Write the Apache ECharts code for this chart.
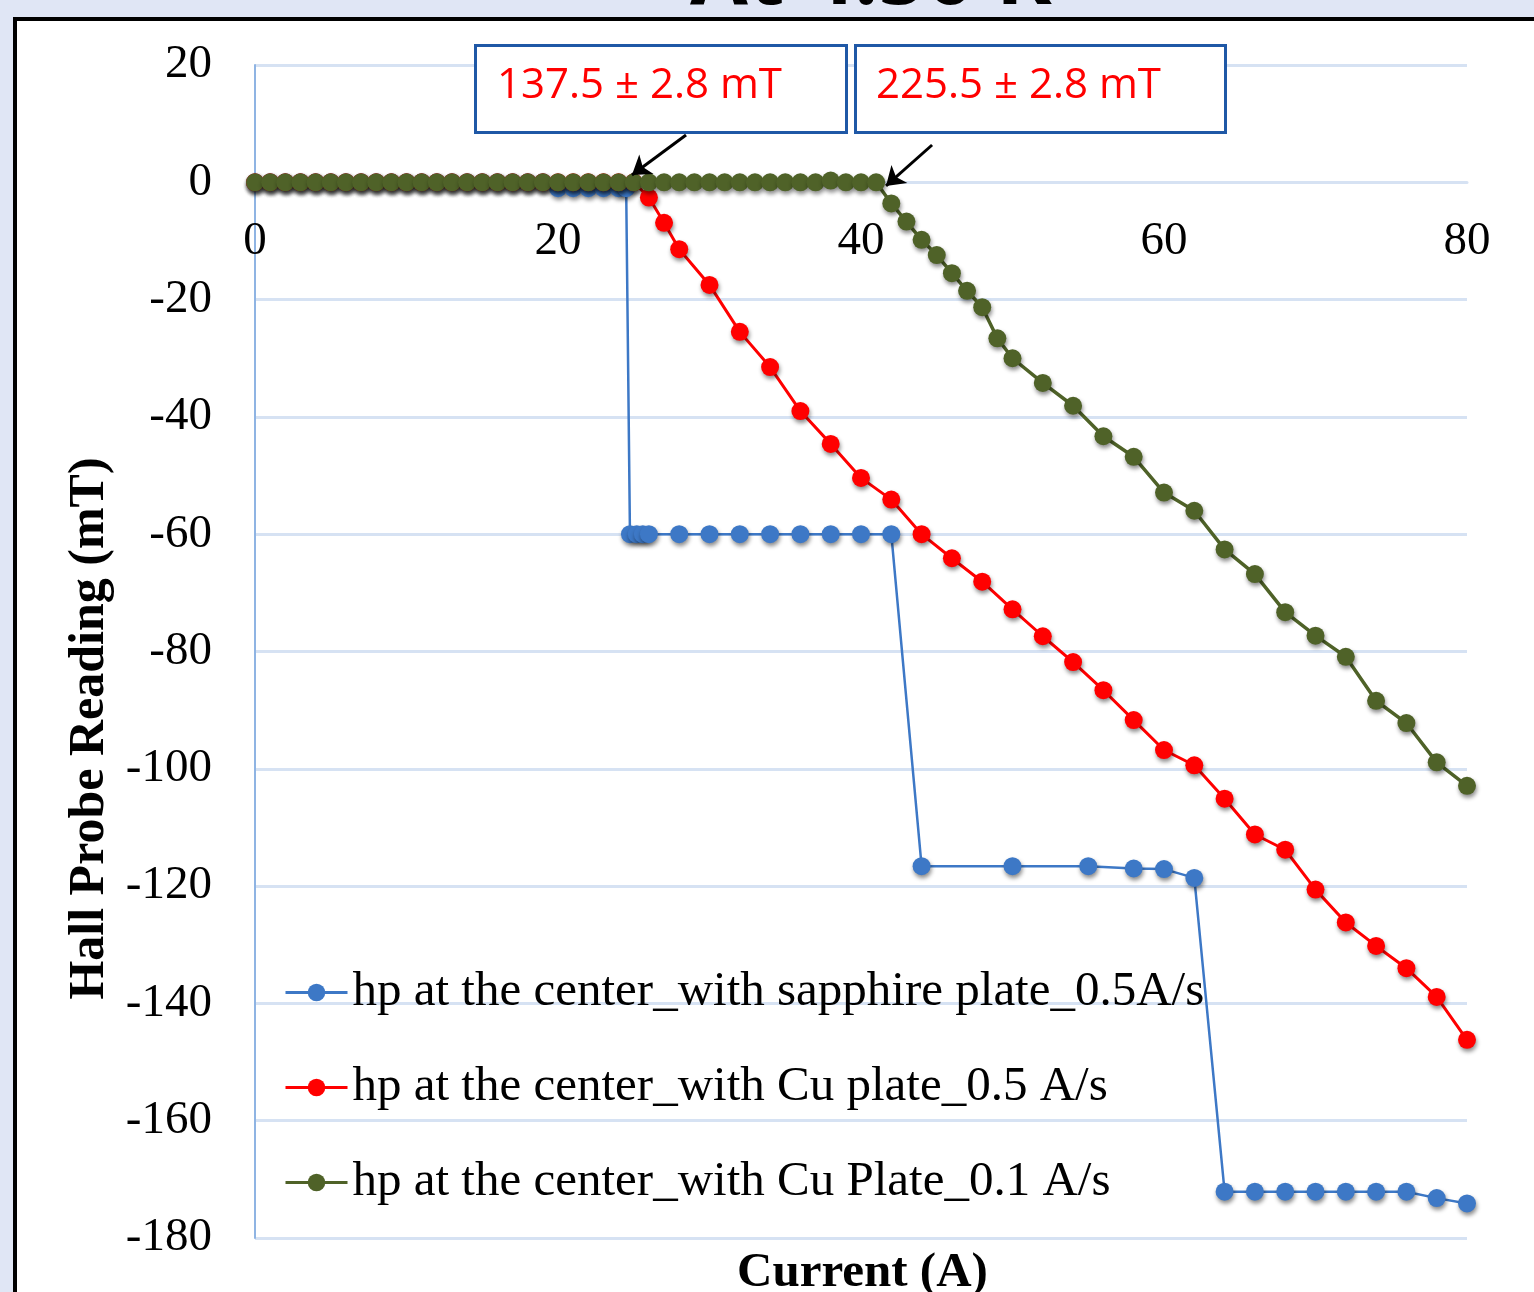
<!DOCTYPE html>
<html>
<head>
<meta charset="utf-8">
<script src="https://cdn.jsdelivr.net/npm/echarts@6/dist/echarts.min.js"></script>
<style>
html,body{margin:0;padding:0;background:#e0e6f5;}
#frame{position:absolute;left:13px;top:17px;width:1540px;height:1300px;border:4px solid #000;background:#fff;box-sizing:border-box;}
#c{position:absolute;left:0;top:0;width:1534px;height:1292px;}
</style>
</head>
<body>
<div id="frame"></div>
<div id="c"></div>
<script>
// ---- data ----
const seriesNames = [
  'hp at the center_with sapphire plate_0.5A/s',
  'hp at the center_with Cu plate_0.5 A/s',
  'hp at the center_with Cu Plate_0.1 A/s'
];
const blueX = [0,1,2,3,4,5,6,7,8,9,10,11,12,13,14,15,16,17,18,19,20,21,22,23,24,24.5,24.75,25.2,25.6,26,28,30,32,34,36,38,40,42,44,50,55,58,60,62,64,66,68,70,72,74,76,78,80];
const blueY = [0,0,0,0,0,0,0,0,0,0,0,0,0,0,0,0,0,0,0,0,-1,-1,-1,-1,-1,-1,-60,-60,-60,-60,-60,-60,-60,-60,-60,-60,-60,-60,-116.6,-116.6,-116.6,-117,-117.1,-118.6,-172.1,-172.1,-172.1,-172.1,-172.1,-172.1,-172.1,-173.2,-174.1];
const redX = [0,1,2,3,4,5,6,7,8,9,10,11,12,13,14,15,16,17,18,19,20,21,22,23,24,25,26,27,28,30,32,34,36,38,40,42,44,46,48,50,52,54,56,58,60,62,64,66,68,70,72,74,76,78,80];
const redY = [0,0,0,0,0,0,0,0,0,0,0,0,0,0,0,0,0,0,0,0,0,0,0,0,0,0,-2.6,-6.9,-11.4,-17.5,-25.5,-31.5,-39,-44.6,-50.4,-54.1,-60,-64.1,-68.1,-72.8,-77.4,-81.8,-86.6,-91.7,-96.8,-99.4,-105.1,-111.2,-113.8,-120.6,-126.2,-130.2,-134,-138.9,-146.2];
const greenX = [0,1,2,3,4,5,6,7,8,9,10,11,12,13,14,15,16,17,18,19,20,21,22,23,24,25,26,27,28,29,30,31,32,33,34,35,36,37,38,39,40,41,42,43,44,45,46,47,48,49,50,52,54,56,58,60,62,64,66,68,70,72,74,76,78,80];
const greenY = [0,0,0,0,0,0,0,0,0,0,0,0,0,0,0,0,0,0,0,0,0,0,0,0,0,0,0,0,0,0,0,0,0,0,0,0,0,0,0.3,0,0,0,-3.6,-6.7,-9.8,-12.4,-15.5,-18.5,-21.3,-26.6,-30,-34.2,-38.1,-43.3,-46.8,-52.9,-56,-62.6,-66.8,-73.3,-77.3,-80.9,-88.4,-92.2,-98.9,-102.9];
const xTicks = [0,20,40,60,80];
const yTicks = [20,0,-20,-40,-60,-80,-100,-120,-140,-160,-180];
const annotations = ['137.5 ± 2.8 mT', '225.5 ± 2.8 mT'];
const arrows = [[[28.45,8.06],[24.88,1.25]],[[44.69,6.36],[41.65,-0.63]]];
const xName = 'Current (A)';
const yName = 'Hall Probe Reading (mT)';
const titleText = 'At 4.50 K';

const colors = ['#3d78c6','#ff0000','#4f6228'];
const zip = (xs, ys) => xs.map((x,i)=>[x, ys[i]]);

const Y_MIN = -180, Y_MAX = 20;
const GRID = {left: 255, right: 67, top: 65, bottom: 54};
const H = 1292;
const plotH = H - GRID.top - GRID.bottom;
// distance (px) from the bottom edge of the plot up to the y = 0 line
const zeroFromBottom = plotH * (0 - Y_MIN) / (Y_MAX - Y_MIN);

const chart = echarts.init(document.getElementById('c'));
const serif = '"Liberation Serif", "DejaVu Serif", serif';
const mkSeries = (i, xs, ys, lw) => ({
  name: seriesNames[i],
  type: 'line',
  data: zip(xs, ys),
  symbol: 'circle',
  symbolSize: 18,
  z: 2 + i,
  lineStyle: {color: colors[i], width: lw},
  itemStyle: {color: colors[i], borderWidth: 0, shadowBlur: 4, shadowColor: 'rgba(0,0,0,0.45)', shadowOffsetX: 1, shadowOffsetY: 3},
  emphasis: {disabled: true},
  animation: false
});

const s0 = mkSeries(0, blueX, blueY, 2.5);
const s1 = mkSeries(1, redX, redY, 3);
const s2 = mkSeries(2, greenX, greenY, 3.5);
const sArrow = {
  type: 'line', data: [], z: 20, silent: true,
  markLine: {
    silent: true, z: 20, animation: false,
    symbol: ['none','arrow'],
    symbolSize: 18,
    label: {show: false},
    lineStyle: {color: '#000', width: 3, type: 'solid'},
    emphasis: {disabled: true},
    data: arrows.map(a => [{coord: a[0]}, {coord: a[1]}])
  }
};

chart.setOption({
  animation: false,
  backgroundColor: 'transparent',
  grid: Object.assign({containLabel: false, outerBoundsMode: 'none'}, GRID),
  xAxis: {
    type: 'value', min: 0, max: 80, interval: 20,
    position: 'bottom', offset: -zeroFromBottom,
    axisLine: {show: true, onZero: false, lineStyle: {color: '#d6e2f3', width: 3}},
    axisTick: {show: false},
    splitLine: {show: false},
    axisLabel: {color: '#000', fontFamily: serif, fontSize: 47, margin: 36,
      formatter: v => xTicks.includes(v) ? String(v) : ''}
  },
  yAxis: {
    type: 'value', min: Y_MIN, max: Y_MAX, interval: 20,
    axisLine: {show: true, onZero: false, lineStyle: {color: '#8fb4e3', width: 2}},
    axisTick: {show: false},
    splitLine: {show: true, lineStyle: {color: '#d6e2f3', width: 3}},
    axisLabel: {color: '#000', fontFamily: serif, fontSize: 47, margin: 43,
      formatter: v => yTicks.includes(v) ? String(v) : ''},
    name: yName, nameLocation: 'middle', nameGap: 120,
    nameTextStyle: {color: '#000', fontFamily: serif, fontWeight: 'bold', fontSize: 50, padding: [0, 154, 0, 0]}
  },
  legend: {
    orient: 'vertical', left: 279, top: 963, itemGap: 46,
    itemWidth: 62, itemHeight: 22,
    data: seriesNames,
    lineStyle: {width: 3},
    textStyle: {color: '#000', fontFamily: serif, fontSize: 49}
  },
  graphic: [
    {type: 'text', left: 690, top: -62, style: {text: titleText, font: 'bold 84px "Open Sans", sans-serif', fill: '#000'}},
    {type: 'text', left: 737, top: 1249, style: {text: xName, font: 'bold 49px "Liberation Serif", serif', fill: '#000'}},
    {type: 'rect', shape: {x: 475.5, y: 45.5, width: 371, height: 87}, style: {fill: '#fff', stroke: '#1f58a6', lineWidth: 3}, z: 10},
    {type: 'rect', shape: {x: 855.5, y: 45.5, width: 370, height: 87}, style: {fill: '#fff', stroke: '#1f58a6', lineWidth: 3}, z: 10},
    {type: 'text', x: 497, y: 86, style: {text: annotations[0], font: '42px "Open Sans", sans-serif', fill: '#ff0000', verticalAlign: 'middle'}, z: 11},
    {type: 'text', x: 876, y: 86, style: {text: annotations[1], font: '42px "Open Sans", sans-serif', fill: '#ff0000', verticalAlign: 'middle'}, z: 11}
  ],
  series: [s0, s1, s2, sArrow]
});
</script>
</body>
</html>
